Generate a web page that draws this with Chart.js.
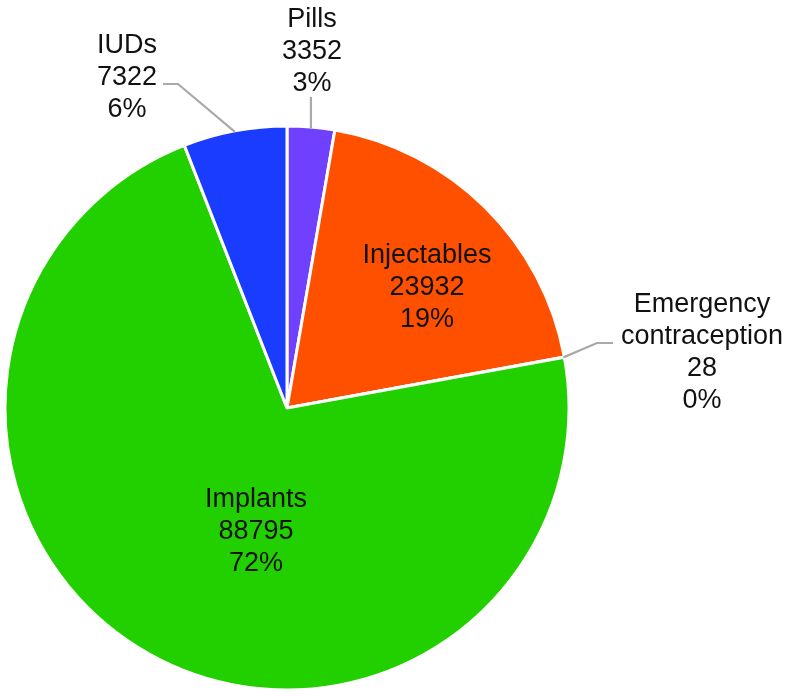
<!DOCTYPE html>
<html>
<head>
<meta charset="utf-8">
<script src="https://cdn.jsdelivr.net/npm/chart.js@4.4.1/dist/chart.umd.min.js"></script>
<style>
  html, body { margin: 0; padding: 0; background: #fff; }
  #wrap { width: 798px; height: 696px; }
</style>
</head>
<body>
<div id="wrap"><canvas id="pieChart" width="798" height="696"></canvas></div>
<script>
const categories = ["Pills", "Injectables", "Emergency contraception", "Implants", "IUDs"];
const nameLines = [["Pills"], ["Injectables"], ["Emergency", "contraception"], ["Implants"], ["IUDs"]];
const counts = [3352, 23932, 28, 88795, 7322];
const sliceColors = ["#7040ff", "#ff5000", "#f2b800", "#22d000", "#1a3cff"];

const total = counts.reduce(function (a, b) { return a + b; }, 0);

// text block anchor (centre x, first baseline) relative to pie centre, and leader lines
const labelSpots = [
    { dx: 25, dy: -381, leader: [[24, -311]] },
    { dx: 140, dy: -145 },
    { dx: 415, dy: -96, leader: [[310, -65], [326, -65]] },
    { dx: -31, dy: 99 },
    { dx: -160, dy: -355, leader: [[-109, -324], [-124, -324]] }
];

const pieLabels = {
    id: "pieLabels",
    afterDatasetsDraw(chart) {
        const c = chart.ctx;
        const arcs = chart.getDatasetMeta(0).data;
        c.save();
        arcs.forEach(function (arc, i) {
            const spot = labelSpots[i];
            const cx = arc.x, cy = arc.y;
            if (spot.leader) {
                const mid = (arc.startAngle + arc.endAngle) / 2;
                const r = arc.outerRadius - 1;
                const sx = cx + r * Math.cos(mid);
                const sy = cy + r * Math.sin(mid);
                c.beginPath();
                c.moveTo(sx, sy);
                spot.leader.forEach(function (p, k) {
                    // first point of a vertical leader keeps the slice's x
                    if (spot.leader.length === 1) c.lineTo(sx, cy + p[1]);
                    else c.lineTo(cx + p[0], cy + p[1]);
                });
                c.strokeStyle = "#a9a9a9";
                c.lineWidth = 2.2;
                c.stroke();
            }
            const pct = Math.round(counts[i] / total * 100) + "%";
            const lines = nameLines[i].concat([String(counts[i]), pct]);
            c.fillStyle = "#111";
            c.font = "27px 'Liberation Sans', Arial, sans-serif";
            c.textAlign = "center";
            c.textBaseline = "alphabetic";
            lines.forEach(function (t, k) {
                c.fillText(t, cx + spot.dx, cy + spot.dy + k * 32);
            });
        });
        c.restore();
    }
};

new Chart(document.getElementById("pieChart"), {
    type: "pie",
    data: {
        labels: categories,
        datasets: [{
            data: counts,
            backgroundColor: sliceColors,
            borderColor: "#ffffff",
            borderWidth: 3
        }]
    },
    options: {
        responsive: false,
        animation: false,
        layout: {
            padding: { left: 3.5, right: 227.5, top: 124.5, bottom: 4.5 }
        },
        plugins: {
            legend: { display: false },
            tooltip: { enabled: false }
        }
    },
    plugins: [pieLabels]
});
</script>
</body>
</html>
